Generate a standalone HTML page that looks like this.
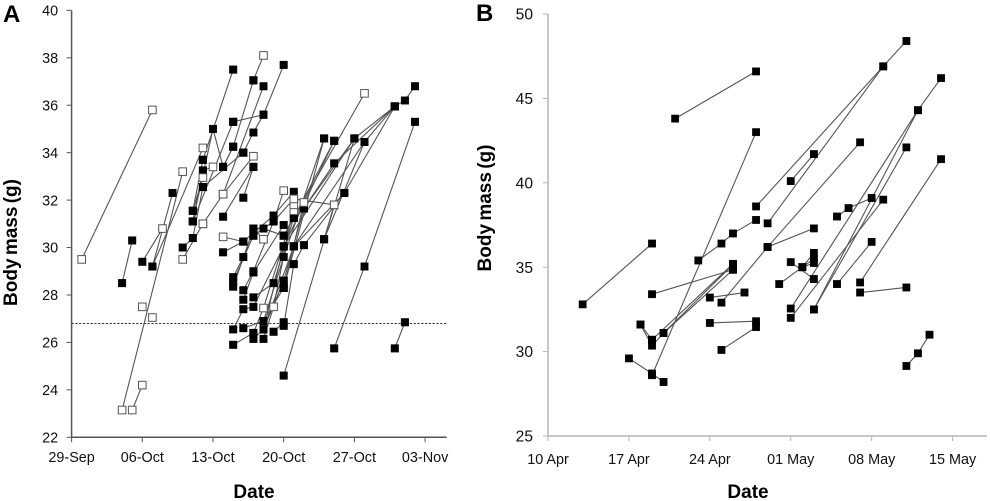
<!DOCTYPE html>
<html>
<head>
<meta charset="utf-8">
<title>Body mass charts</title>
<style>
html,body{margin:0;padding:0;background:#fff;width:990px;height:501px;overflow:hidden}
svg{display:block;filter:blur(0.3px)}
text{font-family:"Liberation Sans",sans-serif;fill:#111}
.tick{font-size:14.4px}
.title{font-size:19px;font-weight:bold;fill:#000;word-spacing:-2px}
.panel{font-size:24px;font-weight:bold;fill:#000}
</style>
</head>
<body>
<svg id="chart" xmlns="http://www.w3.org/2000/svg" width="990" height="501" viewBox="0 0 990 501">
  <rect width="990" height="501" fill="#fff"/>
  <text class="panel" x="3" y="22">A</text>
  <text class="panel" x="476" y="21">B</text>
  <text class="title" text-anchor="middle" transform="translate(17,242.5) rotate(-90)">Body mass (g)</text>
  <text class="title" text-anchor="middle" transform="translate(491,208) rotate(-90)">Body mass (g)</text>
  <text class="title" text-anchor="middle" x="254" y="498">Date</text>
  <text class="title" text-anchor="middle" x="748" y="498">Date</text>
  <g id="panel-a"></g>
  <g id="panel-b"></g>
</svg>
<script>
// Panel A data: days since 29-Sep, body mass (g), open marker flag
const aTickLabelsX = ["29-Sep","06-Oct","13-Oct","20-Oct","27-Oct","03-Nov"];
const aTickDays = [0,7,14,21,28,35];
const aTickMass = [22,24,26,28,30,32,34,36,38,40];
const aThreshold = [26.8];
const aDays = [
[1,8],[5,6],[7,9],[8,13],[5,11],[6,7],[7],[8],[8,10],[11,13],[11,12,13],[12,13],
[12,14,15,16],[12,16],[13,14],[12,13],[13,16],[12,13],[13,15,18],[15,18],[17,18],
[13,17],[17,18,19,21],[16,19],[15,16,18],[18,19],[15,19],[15,17],[15,17,20,22],
[16,17,18,20,22],[16,18,19],[16,18],[18,19,21],[17,18,21],[17,18,20,21],[16,17,18,21],
[16,18],[17,19,21,25],[18,19,22],[18,19,21,26],[19,20,22],[20,21],[18,20,22],
[21,23,26,32],[21,23],[21,22,23,27,32],[21,28,32,33,34],[22,29,32],[22,26],[25,26],
[25,29],[21,29],[22,26],[21,25],[22,27],[23,28],[21,28],[19,22],[19,21],[19,21],
[26,29,34],[32,33]
];
const aMass = [
[29.5,35.8],[28.5,30.3],[29.4,30.8],[29.2,34.2],[23.15,33.2],[23.15,24.2],[27.5],[27.05],[29.2,32.3],[29.5,31.0],[30.0,30.4,32.55],[31.55,32.95],
[31.1,35.0,33.4,34.25],[31.1,35.3],[33.25,33.4],[31.1,33.25],[33.7,37.5],[31.55,33.7],[31.0,32.25,33.85],[31.3,33.4],[32.1,33.4],
[32.55,34.0],[34.0,34.85,35.6,37.7],[35.3,35.6],[33.4,34.25,37.05],[37.05,38.1],[32.25,36.8],[30.45,30.25],[29.8,30.25,31.35,32.35],
[28.75,29.6,30.5,31.1,32.05],[28.35,30.8,30.35],[28.55,30.5],[30.8,30.8,30.5],[27.8,28.95,30.95],[28.2,29.0,31.1,32.4],[26.55,27.4,27.5,30.05],
[25.9,26.4],[26.6,26.9,29.6,34.6],[26.4,27.45,31.55],[26.15,26.55,30.05,34.5],[26.15,27.5,31.8],[26.45,26.85],[27.9,28.5,31.25],
[28.6,31.65,33.55,35.95],[28.3,31.9],[26.7,29.3,30.1,32.3,35.95],[24.6,34.6,35.95,36.2,36.8],[30.05,34.45,35.95],[32.05,31.8],[30.35,31.8],
[30.35,34.45],[30.5,36.5],[31.25,34.5],[28.3,34.6],[30.05,32.3],[31.65,34.6],[30.05,34.6],[26.55,30.05],[26.55,28.6],[26.9,28.3],
[25.75,29.2,35.3],[25.75,26.85]
];
const aOpen = [
[1,1],[0,0],[0,1],[0,1],[1,1],[1,1],[1],[1],[0,0],[1,1],[0,0,0],[0,1],
[0,0,0,0],[0,0],[0,1],[0,0],[0,0],[0,0],[1,1,1],[0,0],[0,0],
[0,0],[0,0,0,0],[0,0],[0,0,0],[0,1],[1,0],[1,0],[0,0,0,0],
[0,0,0,0,1],[0,0,1],[0,0],[0,0,0],[0,0,0],[0,0,0,1],[0,0,0,0],
[0,0],[0,0,0,0],[0,1,1],[0,0,0,0],[0,1,1],[0,0],[0,0,0],
[0,0,0,0],[0,1],[0,0,0,0,0],[0,0,0,0,0],[0,0,0],[1,1],[0,1],
[0,0],[0,1],[0,0],[0,0],[0,0],[0,0],[0,0],[0,0],[0,0],[0,0],
[0,0,0],[0,0]
];

// Panel B data: days since 10-Apr, body mass (g)
const bTickLabelsX = ["10 Apr","17 Apr","24 Apr","01 May","08 May","15 May"];
const bTickDays = [0,7,14,21,28,35];
const bTickMass = [25,30,35,40,45,50];
const bDays = [
[3,9],[7,9,10],[8,9],[8,9,10,16],[10,16],[9,16],[9,16],[9,18],[11,18],[13,15,16,18],
[14,17],[15,19],[14,18],[15,18],[18,29,31],[19,29],[21,23],[19,27],[19,23],[25,26,28],
[20,22,23],[21,23],[21,32,34],[21,29],[23,32],[23,31],[27,34],[27,31],[31,32,33],[25,28],[22,23],[22,23]
];
const bMass = [
[32.8,36.4],[29.6,28.7,28.2],[31.6,30.7],[31.6,30.35,31.1,35.15],[31.1,34.85],[33.4,34.85],[30.7,35.2],[28.6,43.0],[43.8,46.6],[35.4,36.4,37.0,37.8],
[33.2,33.5],[32.9,36.2],[31.7,31.8],[30.1,31.45],[38.6,46.9,48.4],[37.6,46.9],[40.1,41.7],[36.2,42.4],[36.2,37.3],[38.0,38.5,39.1],
[34.0,35.0,35.5],[35.3,34.3],[32.55,44.3,46.2],[32.0,39.0],[32.5,44.3],[32.5,42.1],[34.1,41.4],[33.5,33.8],[29.15,29.9,31.0],[34.0,36.5],[35.0,35.85],[35.0,35.25]
];

const NS = "http://www.w3.org/2000/svg";

function makeEl(parent, tag, attrs) {
  const el = document.createElementNS(NS, tag);
  for (const k in attrs) el.setAttribute(k, attrs[k]);
  parent.appendChild(el);
  return el;
}

function drawPanel(cfg) {
  const g = document.getElementById(cfg.id);
  const x = d => cfg.x0 + cfg.pxPerDay * d;
  const y = v => cfg.yBase - (v - cfg.minMass) * cfg.pxPerGram;

  const yAxis = makeEl(g, "line", {x1: x(0), x2: x(0), y1: y(cfg.maxMass), y2: y(cfg.minMass), stroke: cfg.axisColor, "stroke-width": 1.5});
  
  
  const xAxis = makeEl(g, "line", {x1: x(0), x2: cfg.xEnd, y1: y(cfg.minMass), y2: y(cfg.minMass), stroke: cfg.axisColor, "stroke-width": 1.5});
  
  

  cfg.tickMass.forEach(v => {
    const t = makeEl(g, "line", {x1: x(0) - 5, x2: x(0), y1: y(v), y2: y(v), stroke: cfg.axisColor, "stroke-width": 1});
    
    
    const l = makeEl(g, "text", {x: x(0) - cfg.yLabelGap, y: y(v) + cfg.yLabelSize * 0.36, "text-anchor": "end", class: "tick", style: "font-size:" + cfg.yLabelSize + "px"});
    
    
    l.textContent = v;
  });

  cfg.tickDays.forEach((d, i) => {
    const t = makeEl(g, "line", {x1: x(d), x2: x(d), y1: y(cfg.minMass), y2: y(cfg.minMass) + 5, stroke: cfg.axisColor, "stroke-width": 1});
    
    
    const l = makeEl(g, "text", {x: x(d), y: cfg.xLabelY, "text-anchor": "middle", class: "tick"});
    
    
    l.textContent = cfg.tickLabels[i];
  });

  (cfg.refLines || []).forEach(v => {
    const r = makeEl(g, "line", {x1: x(0), x2: cfg.xEnd, y1: y(v), y2: y(v), stroke: "#333", "stroke-width": 1, "stroke-dasharray": "2.2 1.6"});
    
    
  });

  cfg.days.forEach((track, i) => {
    const pts = track.map((d, j) => x(d) + "," + y(cfg.mass[i][j])).join(" ");
    if (track.length > 1) {
      const pl = makeEl(g, "polyline", {points: pts, fill: "none", stroke: "#555", "stroke-width": 1.1});
      
      
    }
  });

  const s = cfg.markerSize;
  const drawMarkers = wantOpen => cfg.days.forEach((track, i) => {
    track.forEach((d, j) => {
      const open = cfg.open ? cfg.open[i][j] === 1 : false;
      if (open !== wantOpen) return;
      const m = makeEl(g, "rect", {
        x: x(d) - s / 2, y: y(cfg.mass[i][j]) - s / 2, width: s, height: s,
        fill: open ? "#fff" : "#000", stroke: open ? "#555" : "#000", "stroke-width": open ? 1 : 0.4
      });
      
      
    });
  });
  drawMarkers(false);
  drawMarkers(true);
}

drawPanel({
  id: "panel-a", x0: 71.6, pxPerDay: 10.1, yBase: 437.3, minMass: 22, maxMass: 40, pxPerGram: 23.72,
  xEnd: 446.7, axisColor: "#555", yLabelGap: 13.5, yLabelSize: 14.4, xLabelY: 462,
  tickMass: aTickMass, tickDays: aTickDays, tickLabels: aTickLabelsX,
  refLines: aThreshold, days: aDays, mass: aMass, open: aOpen, markerSize: 7.6
});
drawPanel({
  id: "panel-b", x0: 548, pxPerDay: 11.56, yBase: 436, minMass: 25, maxMass: 50, pxPerGram: 16.88,
  xEnd: 987, axisColor: "#b5b5b5", yLabelGap: 15, yLabelSize: 15.6, xLabelY: 464,
  tickMass: bTickMass, tickDays: bTickDays, tickLabels: bTickLabelsX,
  days: bDays, mass: bMass, markerSize: 7.4
});
</script>
</body>
</html>
